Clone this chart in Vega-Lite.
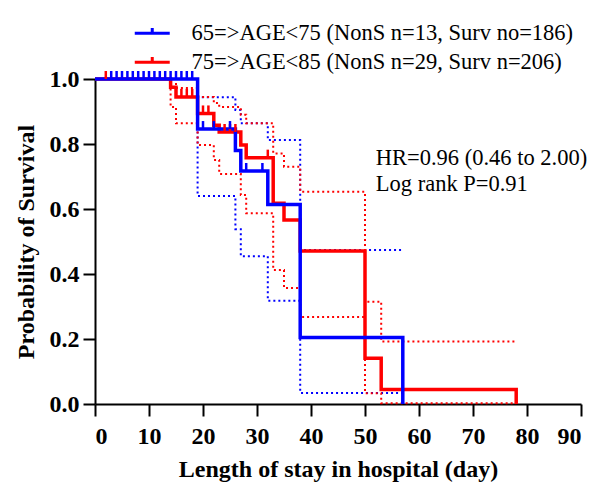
{
  "$schema": "https://vega.github.io/schema/vega-lite/v6.json",
  "width": 486,
  "height": 325,
  "autosize": {"type": "none"},
  "padding": {"left": 95, "top": 79, "right": 30, "bottom": 84},
  "background": "white",
  "config": {
    "view": {"stroke": null},
    "font": "Liberation Serif",
    "axis": {
      "domainColor": "black", "domainWidth": 2, "tickColor": "black", "tickWidth": 2, "tickSize": 12,
      "labelFont": "Liberation Serif", "labelFontWeight": "bold", "labelFontSize": 24, "labelColor": "black",
      "titleFont": "Liberation Serif", "titleFontWeight": "bold", "titleFontSize": 24, "titleColor": "black",
      "grid": false
    },
    "legend": {
      "orient": "none", "legendX": 46, "legendY": -57, "padding": 0, "title": null,
      "symbolType": "M-2,0H2M0,0V-0.6", "symbolSize": 306, "symbolStrokeWidth": 3,
      "labelFont": "Liberation Serif", "labelFontSize": 22.5, "labelColor": "black", "labelOffset": 28,
      "rowPadding": 6, "labelLimit": 500
    }
  },
  "datasets": {
    "km": [
      {"series": "65=>AGE<75 (NonS n=13, Surv no=186)", "kind": "est", "day": 0, "surv": 1},
      {"series": "65=>AGE<75 (NonS n=13, Surv no=186)", "kind": "est", "day": 19, "surv": 0.846},
      {"series": "65=>AGE<75 (NonS n=13, Surv no=186)", "kind": "est", "day": 26, "surv": 0.78},
      {"series": "65=>AGE<75 (NonS n=13, Surv no=186)", "kind": "est", "day": 27, "surv": 0.717},
      {"series": "65=>AGE<75 (NonS n=13, Surv no=186)", "kind": "est", "day": 32, "surv": 0.614},
      {"series": "65=>AGE<75 (NonS n=13, Surv no=186)", "kind": "est", "day": 38, "surv": 0.205},
      {"series": "65=>AGE<75 (NonS n=13, Surv no=186)", "kind": "est", "day": 57, "surv": 0},
      {"series": "65=>AGE<75 (NonS n=13, Surv no=186)", "kind": "upper", "day": 0, "surv": 1},
      {"series": "65=>AGE<75 (NonS n=13, Surv no=186)", "kind": "upper", "day": 19, "surv": 0.944},
      {"series": "65=>AGE<75 (NonS n=13, Surv no=186)", "kind": "upper", "day": 26, "surv": 0.905},
      {"series": "65=>AGE<75 (NonS n=13, Surv no=186)", "kind": "upper", "day": 27, "surv": 0.864},
      {"series": "65=>AGE<75 (NonS n=13, Surv no=186)", "kind": "upper", "day": 32, "surv": 0.812},
      {"series": "65=>AGE<75 (NonS n=13, Surv no=186)", "kind": "upper", "day": 38, "surv": 0.474},
      {"series": "65=>AGE<75 (NonS n=13, Surv no=186)", "kind": "upper", "day": 57, "surv": 0.474},
      {"series": "65=>AGE<75 (NonS n=13, Surv no=186)", "kind": "lower", "day": 0, "surv": 1},
      {"series": "65=>AGE<75 (NonS n=13, Surv no=186)", "kind": "lower", "day": 19, "surv": 0.64},
      {"series": "65=>AGE<75 (NonS n=13, Surv no=186)", "kind": "lower", "day": 26, "surv": 0.538},
      {"series": "65=>AGE<75 (NonS n=13, Surv no=186)", "kind": "lower", "day": 27, "surv": 0.455},
      {"series": "65=>AGE<75 (NonS n=13, Surv no=186)", "kind": "lower", "day": 32, "surv": 0.318},
      {"series": "65=>AGE<75 (NonS n=13, Surv no=186)", "kind": "lower", "day": 38, "surv": 0.034},
      {"series": "65=>AGE<75 (NonS n=13, Surv no=186)", "kind": "lower", "day": 57, "surv": 0.034},
      {"series": "75=>AGE<85 (NonS n=29, Surv n=206)", "kind": "est", "day": 0, "surv": 1},
      {"series": "75=>AGE<85 (NonS n=29, Surv n=206)", "kind": "est", "day": 14, "surv": 0.975},
      {"series": "75=>AGE<85 (NonS n=29, Surv n=206)", "kind": "est", "day": 15, "surv": 0.945},
      {"series": "75=>AGE<85 (NonS n=29, Surv n=206)", "kind": "est", "day": 19, "surv": 0.894},
      {"series": "75=>AGE<85 (NonS n=29, Surv n=206)", "kind": "est", "day": 22, "surv": 0.858},
      {"series": "75=>AGE<85 (NonS n=29, Surv n=206)", "kind": "est", "day": 23, "surv": 0.837},
      {"series": "75=>AGE<85 (NonS n=29, Surv n=206)", "kind": "est", "day": 27, "surv": 0.797},
      {"series": "75=>AGE<85 (NonS n=29, Surv n=206)", "kind": "est", "day": 28, "surv": 0.758},
      {"series": "75=>AGE<85 (NonS n=29, Surv n=206)", "kind": "est", "day": 33, "surv": 0.618},
      {"series": "75=>AGE<85 (NonS n=29, Surv n=206)", "kind": "est", "day": 35, "surv": 0.566},
      {"series": "75=>AGE<85 (NonS n=29, Surv n=206)", "kind": "est", "day": 38, "surv": 0.471},
      {"series": "75=>AGE<85 (NonS n=29, Surv n=206)", "kind": "est", "day": 50, "surv": 0.141},
      {"series": "75=>AGE<85 (NonS n=29, Surv n=206)", "kind": "est", "day": 53, "surv": 0.045},
      {"series": "75=>AGE<85 (NonS n=29, Surv n=206)", "kind": "est", "day": 78, "surv": 0},
      {"series": "75=>AGE<85 (NonS n=29, Surv n=206)", "kind": "upper", "day": 0, "surv": 1},
      {"series": "75=>AGE<85 (NonS n=29, Surv n=206)", "kind": "upper", "day": 15, "surv": 0.972},
      {"series": "75=>AGE<85 (NonS n=29, Surv n=206)", "kind": "upper", "day": 19, "surv": 0.945},
      {"series": "75=>AGE<85 (NonS n=29, Surv n=206)", "kind": "upper", "day": 22, "surv": 0.926},
      {"series": "75=>AGE<85 (NonS n=29, Surv n=206)", "kind": "upper", "day": 23, "surv": 0.914},
      {"series": "75=>AGE<85 (NonS n=29, Surv n=206)", "kind": "upper", "day": 27, "surv": 0.89},
      {"series": "75=>AGE<85 (NonS n=29, Surv n=206)", "kind": "upper", "day": 28, "surv": 0.864},
      {"series": "75=>AGE<85 (NonS n=29, Surv n=206)", "kind": "upper", "day": 33, "surv": 0.771},
      {"series": "75=>AGE<85 (NonS n=29, Surv n=206)", "kind": "upper", "day": 35, "surv": 0.73},
      {"series": "75=>AGE<85 (NonS n=29, Surv n=206)", "kind": "upper", "day": 38, "surv": 0.653},
      {"series": "75=>AGE<85 (NonS n=29, Surv n=206)", "kind": "upper", "day": 50, "surv": 0.315},
      {"series": "75=>AGE<85 (NonS n=29, Surv n=206)", "kind": "upper", "day": 53, "surv": 0.192},
      {"series": "75=>AGE<85 (NonS n=29, Surv n=206)", "kind": "upper", "day": 78, "surv": 0.192},
      {"series": "75=>AGE<85 (NonS n=29, Surv n=206)", "kind": "lower", "day": 0, "surv": 1},
      {"series": "75=>AGE<85 (NonS n=29, Surv n=206)", "kind": "lower", "day": 14, "surv": 0.914},
      {"series": "75=>AGE<85 (NonS n=29, Surv n=206)", "kind": "lower", "day": 15, "surv": 0.864},
      {"series": "75=>AGE<85 (NonS n=29, Surv n=206)", "kind": "lower", "day": 19, "surv": 0.797},
      {"series": "75=>AGE<85 (NonS n=29, Surv n=206)", "kind": "lower", "day": 22, "surv": 0.751},
      {"series": "75=>AGE<85 (NonS n=29, Surv n=206)", "kind": "lower", "day": 23, "surv": 0.708},
      {"series": "75=>AGE<85 (NonS n=29, Surv n=206)", "kind": "lower", "day": 27, "surv": 0.643},
      {"series": "75=>AGE<85 (NonS n=29, Surv n=206)", "kind": "lower", "day": 28, "surv": 0.587},
      {"series": "75=>AGE<85 (NonS n=29, Surv n=206)", "kind": "lower", "day": 33, "surv": 0.412},
      {"series": "75=>AGE<85 (NonS n=29, Surv n=206)", "kind": "lower", "day": 35, "surv": 0.357},
      {"series": "75=>AGE<85 (NonS n=29, Surv n=206)", "kind": "lower", "day": 38, "surv": 0.268},
      {"series": "75=>AGE<85 (NonS n=29, Surv n=206)", "kind": "lower", "day": 50, "surv": 0.033},
      {"series": "75=>AGE<85 (NonS n=29, Surv n=206)", "kind": "lower", "day": 53, "surv": 0.002},
      {"series": "75=>AGE<85 (NonS n=29, Surv n=206)", "kind": "lower", "day": 78, "surv": 0.002}
    ],
    "censor": [
      {"series": "75=>AGE<85 (NonS n=29, Surv n=206)", "day": 2, "surv": 1},
      {"series": "75=>AGE<85 (NonS n=29, Surv n=206)", "day": 16, "surv": 0.945},
      {"series": "75=>AGE<85 (NonS n=29, Surv n=206)", "day": 17, "surv": 0.945},
      {"series": "75=>AGE<85 (NonS n=29, Surv n=206)", "day": 18, "surv": 0.945},
      {"series": "75=>AGE<85 (NonS n=29, Surv n=206)", "day": 20, "surv": 0.894},
      {"series": "75=>AGE<85 (NonS n=29, Surv n=206)", "day": 21, "surv": 0.894},
      {"series": "75=>AGE<85 (NonS n=29, Surv n=206)", "day": 24, "surv": 0.837},
      {"series": "75=>AGE<85 (NonS n=29, Surv n=206)", "day": 25, "surv": 0.837},
      {"series": "75=>AGE<85 (NonS n=29, Surv n=206)", "day": 26, "surv": 0.837},
      {"series": "75=>AGE<85 (NonS n=29, Surv n=206)", "day": 32, "surv": 0.758},
      {"series": "65=>AGE<75 (NonS n=13, Surv no=186)", "day": 3, "surv": 1},
      {"series": "65=>AGE<75 (NonS n=13, Surv no=186)", "day": 4, "surv": 1},
      {"series": "65=>AGE<75 (NonS n=13, Surv no=186)", "day": 5, "surv": 1},
      {"series": "65=>AGE<75 (NonS n=13, Surv no=186)", "day": 6, "surv": 1},
      {"series": "65=>AGE<75 (NonS n=13, Surv no=186)", "day": 7, "surv": 1},
      {"series": "65=>AGE<75 (NonS n=13, Surv no=186)", "day": 8, "surv": 1},
      {"series": "65=>AGE<75 (NonS n=13, Surv no=186)", "day": 9, "surv": 1},
      {"series": "65=>AGE<75 (NonS n=13, Surv no=186)", "day": 10, "surv": 1},
      {"series": "65=>AGE<75 (NonS n=13, Surv no=186)", "day": 11, "surv": 1},
      {"series": "65=>AGE<75 (NonS n=13, Surv no=186)", "day": 12, "surv": 1},
      {"series": "65=>AGE<75 (NonS n=13, Surv no=186)", "day": 13, "surv": 1},
      {"series": "65=>AGE<75 (NonS n=13, Surv no=186)", "day": 14, "surv": 1},
      {"series": "65=>AGE<75 (NonS n=13, Surv no=186)", "day": 15, "surv": 1},
      {"series": "65=>AGE<75 (NonS n=13, Surv no=186)", "day": 16, "surv": 1},
      {"series": "65=>AGE<75 (NonS n=13, Surv no=186)", "day": 17, "surv": 1},
      {"series": "65=>AGE<75 (NonS n=13, Surv no=186)", "day": 18, "surv": 1},
      {"series": "65=>AGE<75 (NonS n=13, Surv no=186)", "day": 20, "surv": 0.846},
      {"series": "65=>AGE<75 (NonS n=13, Surv no=186)", "day": 22, "surv": 0.846},
      {"series": "65=>AGE<75 (NonS n=13, Surv no=186)", "day": 25, "surv": 0.846},
      {"series": "65=>AGE<75 (NonS n=13, Surv no=186)", "day": 28, "surv": 0.717},
      {"series": "65=>AGE<75 (NonS n=13, Surv no=186)", "day": 31, "surv": 0.717}
    ],
    "notes": [
      {"label": "HR=0.96 (0.46 to 2.00)", "day": 52, "surv": 0.757},
      {"label": "Log rank P=0.91", "day": 52, "surv": 0.677}
    ]
  },
  "encoding": {
    "x": {"field": "day", "type": "quantitative", "scale": {"domain": [0, 90], "nice": false},
      "axis": {"values": [0, 10, 20, 30, 40, 50, 60, 70, 80, 90], "title": "Length of stay in hospital (day)", "labelPadding": 8, "titlePadding": 9}},
    "y": {"field": "surv", "type": "quantitative", "scale": {"domain": [0, 1], "nice": false},
      "axis": {"values": [0, 0.2, 0.4, 0.6, 0.8, 1.0], "format": ".1f", "title": "Probability of Survival", "labelPadding": 4, "titlePadding": 11}}
  },
  "layer": [
    {
      "data": {"name": "km"},
      "transform": [{"filter": "datum.kind != 'est'"}],
      "mark": {"type": "line", "interpolate": "step-after", "strokeWidth": 2, "strokeDash": [2, 3]},
      "encoding": {
        "color": {"field": "series", "type": "nominal", "scale": {"domain": ["65=>AGE<75 (NonS n=13, Surv no=186)", "75=>AGE<85 (NonS n=29, Surv n=206)"], "range": ["#0000ff", "#ff0000"]}},
        "detail": {"field": "kind"}
      }
    },
    {
      "data": {"name": "km"},
      "transform": [{"filter": "datum.kind == 'est' && datum.series == '75=>AGE<85 (NonS n=29, Surv n=206)'"}],
      "mark": {"type": "line", "interpolate": "step-after", "strokeWidth": 3.5},
      "encoding": {"color": {"field": "series", "type": "nominal"}}
    },
    {
      "data": {"name": "km"},
      "transform": [{"filter": "datum.kind == 'est' && datum.series == '65=>AGE<75 (NonS n=13, Surv no=186)'"}],
      "mark": {"type": "line", "interpolate": "step-after", "strokeWidth": 3.5},
      "encoding": {"color": {"field": "series", "type": "nominal"}}
    },
    {
      "data": {"name": "censor"},
      "mark": {"type": "point", "shape": "M0,0V-1", "size": 256, "strokeWidth": 2.5, "filled": false, "opacity": 1},
      "encoding": {"color": {"field": "series", "type": "nominal"}}
    },
    {
      "data": {"name": "notes"},
      "mark": {"type": "text", "align": "left", "baseline": "middle", "font": "Liberation Serif", "fontSize": 22.5, "color": "black"},
      "encoding": {"text": {"field": "label"}}
    }
  ]
}
